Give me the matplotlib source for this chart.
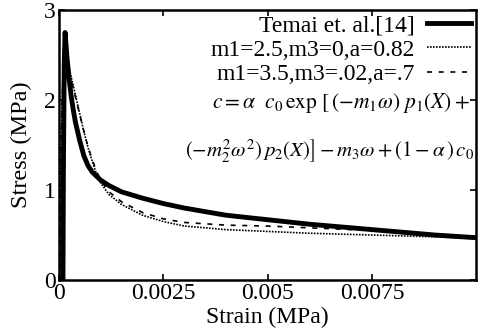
import matplotlib
matplotlib.use("Agg")
from matplotlib import pyplot as plt

# Temai et. al.[14] - experimental curve
strain_exp = [0.00010, 0.00011, 0.00013, 0.00015, 0.00020, 0.00025, 0.00030, 0.00035,
              0.00040, 0.00050, 0.00060, 0.00070, 0.00080, 0.00100, 0.00120, 0.00150,
              0.00200, 0.00250, 0.00300, 0.00400, 0.00500, 0.00600, 0.00750, 0.00900,
              0.01000]
stress_exp = [0.00, 1.20, 2.40, 2.75, 2.45, 2.22, 2.03, 1.88,
              1.75, 1.55, 1.38, 1.27, 1.20, 1.11, 1.05, 0.98,
              0.91, 0.85, 0.80, 0.72, 0.67, 0.62, 0.56, 0.50,
              0.47]

# m1=2.5, m3=0, a=0.82
strain_m1 = [0.00003, 0.00005, 0.00010, 0.00017, 0.00025, 0.00030, 0.00040, 0.00050,
             0.00060, 0.00070, 0.00080, 0.00090, 0.00100, 0.00120, 0.00150, 0.00200,
             0.00250, 0.00300, 0.00400, 0.00500, 0.00600, 0.00750, 0.00900, 0.01000]
stress_m1 = [0.00, 1.50, 2.30, 2.50, 2.35, 2.25, 2.05, 1.85,
             1.65, 1.47, 1.32, 1.18, 1.08, 0.95, 0.84, 0.72,
             0.65, 0.60, 0.56, 0.54, 0.52, 0.50, 0.48, 0.46]

# m1=3.5, m3=.02, a=.7
strain_m2 = [0.00003, 0.00005, 0.00010, 0.00017, 0.00025, 0.00030, 0.00040, 0.00050,
             0.00060, 0.00070, 0.00080, 0.00090, 0.00100, 0.00120, 0.00150, 0.00200,
             0.00250, 0.00300, 0.00400, 0.00500, 0.00600, 0.00750, 0.00900, 0.01000]
stress_m2 = [0.00, 1.45, 2.25, 2.45, 2.32, 2.22, 2.03, 1.84,
             1.65, 1.48, 1.34, 1.21, 1.11, 0.98, 0.87, 0.75,
             0.68, 0.64, 0.61, 0.60, 0.58, 0.55, 0.50, 0.47]

xticks = [0, 0.0025, 0.005, 0.0075]
xtick_labels = ["0", "0.0025", "0.005", "0.0075"]
yticks = [0, 1, 2, 3]

plt.rcParams['font.family'] = ['Liberation Serif', 'DejaVu Serif']
plt.rcParams['mathtext.fontset'] = 'stix'

fig = plt.figure(figsize=(4.78, 3.33), dpi=100)
ax = fig.add_axes([0.123, 0.159, 0.873, 0.811])

ax.plot(strain_exp, stress_exp, color='black', lw=3.5, label='Temai et. al.[14]')
ax.plot(strain_m1, stress_m1, color='black', lw=1.2, ls=(0, (1, 0.8)),
        label='m1=2.5,m3=0,a=0.82')
ax.plot(strain_m2, stress_m2, color='black', lw=1.2, ls=(0, (3, 4)),
        label='m1=3.5,m3=.02,a=.7')

ax.set_xlim(0, 0.00998)
ax.set_ylim(0, 3)
ax.set_xticks(xticks)
ax.set_xticklabels(xtick_labels)
ax.set_yticks(yticks)
ax.tick_params(direction='in', top=True, right=True, labelsize=17, length=4, width=1.2, pad=2)
for s in ax.spines.values():
    s.set_linewidth(1.8)

ax.set_xlabel("Strain (MPa)", fontsize=17, labelpad=2)
ax.set_ylabel("Stress (MPa)", fontsize=17.5, labelpad=9)

leg = ax.legend(loc='upper right', frameon=False, markerfirst=False, fontsize=17,
                handlelength=1.9, labelspacing=0.12, borderaxespad=0.0,
                handletextpad=0.5, borderpad=0.2)

ax.text(0.985, 0.655, r"$c = \alpha\ \ c_0\,\mathrm{exp}\ \left[\,(-m_1\omega)\ p_1(X) + \right.$",
        transform=ax.transAxes, ha='right', va='center', fontsize=15.5)
ax.text(0.995, 0.48, r"$\left.(-m^2_2\omega^2)\,p_2(X)\right] - m_3\omega + (1-\alpha\,)\,c_0$",
        transform=ax.transAxes, ha='right', va='center', fontsize=15)

fig.savefig("out.png", dpi=100)
